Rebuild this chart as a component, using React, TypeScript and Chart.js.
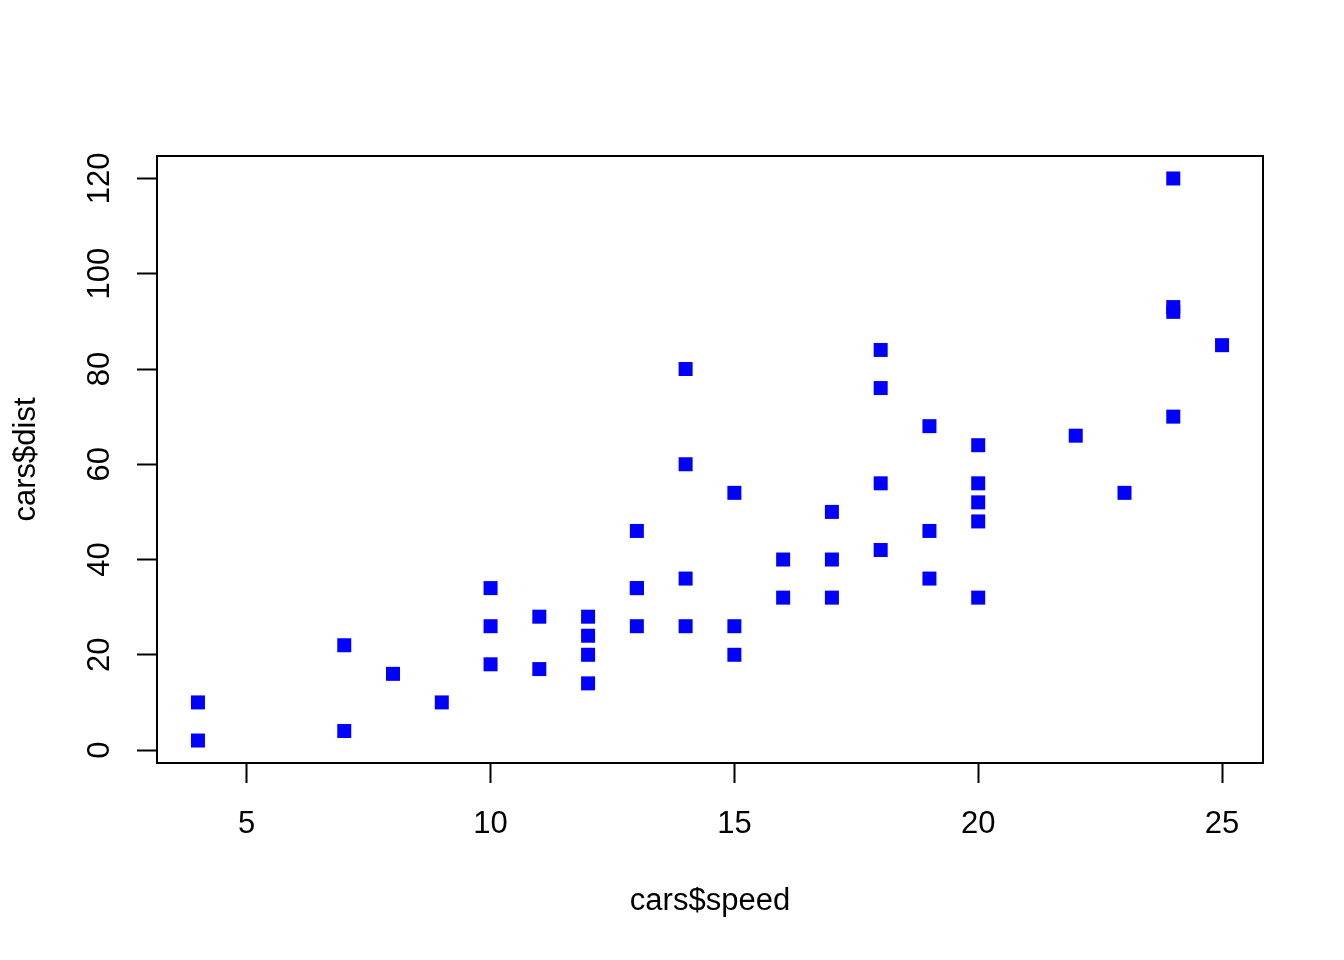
import React, { useEffect, useRef } from "react";
import { Chart, registerables } from "chart.js";

Chart.register(...registerables);

const speed = [4, 4, 7, 7, 8, 9, 10, 10, 10, 11, 11, 12, 12, 12, 12, 13, 13, 13, 13, 14, 14, 14, 14, 15, 15, 15, 16, 16, 17, 17, 17, 18, 18, 18, 18, 19, 19, 19, 20, 20, 20, 20, 20, 22, 23, 24, 24, 24, 24, 25];
const dist = [2, 10, 4, 22, 16, 10, 18, 26, 34, 17, 28, 14, 20, 24, 28, 26, 34, 34, 46, 26, 36, 60, 80, 20, 26, 54, 32, 40, 32, 40, 50, 42, 56, 76, 84, 36, 46, 68, 32, 48, 52, 56, 64, 66, 54, 70, 92, 93, 120, 85];
const xTicks = [5, 10, 15, 20, 25];
const yTicks = [0, 20, 40, 60, 80, 100, 120];
const xLabel = "cars$speed";
const yLabel = "cars$dist";

const FONT = "'Liberation Sans', Arial, sans-serif";
const FS = 31;

export default function App() {
  const ref = useRef<HTMLCanvasElement | null>(null);
  useEffect(() => {
    if (!ref.current) return;
    const xMin = Math.min(...speed), xMax = Math.max(...speed);
    const yMin = Math.min(...dist), yMax = Math.max(...dist);
    const xPad = (xMax - xMin) * 0.04, yPad = (yMax - yMin) * 0.04;
    const boxPlugin = {
      id: "box",
      afterDraw(chart: any) {
        const { ctx, chartArea: a } = chart;
        ctx.save();
        ctx.strokeStyle = "#000";
        ctx.lineWidth = 2;
        ctx.strokeRect(a.left, a.top, a.right - a.left, a.bottom - a.top);
        ctx.restore();
      },
    };
    const chart = new Chart(ref.current, {
      type: "scatter",
      data: {
        datasets: [
          {
            data: speed.map((s, i) => ({ x: s, y: dist[i] })),
            backgroundColor: "#0000FF",
            borderWidth: 0,
            pointStyle: "rect",
            pointRadius: 9.9,
            pointHoverRadius: 9.9,
          },
        ],
      },
      options: {
        animation: false,
        responsive: false,
        layout: { padding: { top: 156, right: 81, left: 0, bottom: 0 } },
        plugins: { legend: { display: false }, tooltip: { enabled: false } },
        scales: {
          x: {
            type: "linear",
            min: xMin - xPad,
            max: xMax + xPad,
            afterBuildTicks: (s: any) => {
              s.ticks = xTicks.map((v) => ({ value: v }));
            },
            afterFit: (s: any) => {
              s.height = 197;
            },
            border: { display: false },
            grid: {
              drawOnChartArea: false,
              drawTicks: true,
              tickLength: 20,
              tickWidth: 2,
              tickColor: "#000",
            },
            ticks: {
              color: "#000",
              font: { family: FONT, size: FS },
              padding: 23,
              maxRotation: 0,
              minRotation: 0,
            },
            title: {
              display: true,
              text: xLabel,
              color: "#000",
              font: { family: FONT, size: FS },
              padding: { top: 0, bottom: 40 },
            },
          },
          y: {
            type: "linear",
            min: yMin - yPad,
            max: yMax + yPad,
            afterBuildTicks: (s: any) => {
              s.ticks = yTicks.map((v) => ({ value: v }));
            },
            afterFit: (s: any) => {
              s.width = 157;
            },
            border: { display: false },
            grid: {
              drawOnChartArea: false,
              drawTicks: true,
              tickLength: 20,
              tickWidth: 2,
              tickColor: "#000",
            },
            ticks: {
              color: "#000",
              font: { family: FONT, size: FS },
              padding: 11,
              minRotation: 90,
              maxRotation: 90,
              crossAlign: "center",
            },
            title: {
              display: true,
              text: yLabel,
              color: "#000",
              font: { family: FONT, size: FS },
              padding: { top: 8, bottom: 0 },
            },
          },
        },
      },
      plugins: [boxPlugin],
    } as any);
    return () => chart.destroy();
  }, []);
  return (
    <div style={{ position: "fixed", left: 0, top: 0, width: 1344, height: 960, background: "#fff" }}>
      <canvas ref={ref} width={1344} height={960} style={{ width: 1344, height: 960 }} />
    </div>
  );
}
